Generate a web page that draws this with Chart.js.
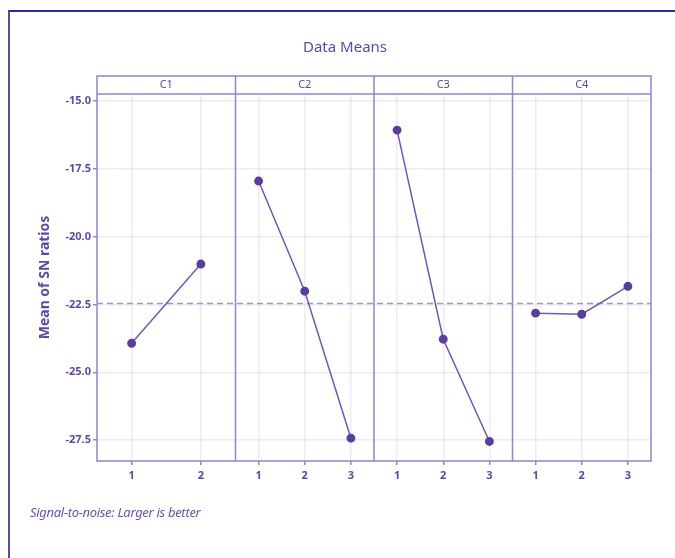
<!DOCTYPE html>
<html>
<head>
<meta charset="utf-8">
<script src="https://cdn.jsdelivr.net/npm/chart.js@4"></script>
<style>
    body { margin: 0; background: #fff; }
    #wrap { position: relative; width: 675px; height: 558px; }
    #frame { position: absolute; left: 8px; top: 10px; right: 0; bottom: -5px;
        border-left: 2px solid #5b48a8; border-top: 2px solid #2f2a98; }
    #note { position: absolute; left: 30px; top: 503px; font: italic 13px "Noto Sans", sans-serif;
        color: #6a52ae; letter-spacing: -0.3px; }
</style>
</head>
<body>
<div id="wrap">
    <div id="frame"></div>
    <canvas id="myChart" width="675" height="558"></canvas>
    <div id="note">Signal-to-noise: Larger is better</div>
</div>
<script>
// factors and their level means (SN ratios)
const factors = ['C1', 'C2', 'C3', 'C4'];
const levels_c1 = ['1', '2'];
const levels_other = ['1', '2', '3'];
const sn_c1 = [-23.93, -21.01];
const sn_c2 = [-17.95, -22.01, -27.43];
const sn_c3 = [-16.07, -23.78, -27.55];
const sn_c4 = [-22.82, -22.86, -21.83];
const y_ticks = [-15.0, -17.5, -20.0, -22.5, -25.0, -27.5];

const purple = '#5a3d9e';
const text_purple = '#5f47a8';
const frame_purple = '#9683c8';
const grid_purple = 'rgba(150, 130, 205, 0.16)';

const panel_levels = [levels_c1, levels_other, levels_other, levels_other];
const panel_values = [sn_c1, sn_c2, sn_c3, sn_c4];

// each factor panel takes one unit on the shared x axis
function level_pos(panel, idx) {
    const n = panel_levels[panel].length;
    return panel + (idx + 0.5) / n;
}

const grand_mean = sn_c2.reduce((a, b) => a + b, 0) / sn_c2.length;

const tick_positions = [];
const tick_labels = {};
panel_levels.forEach((lv, p) => {
    lv.forEach((name, i) => {
        const pos = level_pos(p, i);
        tick_positions.push(pos);
        tick_labels[pos.toFixed(4)] = name;
    });
});

const datasets = panel_values.map((vals, p) => ({
    label: factors[p],
    data: vals.map((v, i) => ({ x: level_pos(p, i), y: v })),
    borderColor: '#7058b4',
    borderWidth: 1.5,
    backgroundColor: purple,
    pointBackgroundColor: purple,
    pointBorderColor: purple,
    pointRadius: 3.7,
    tension: 0
}));
datasets.push({
    label: 'mean',
    data: [{ x: 0, y: grand_mean }, { x: 4, y: grand_mean }],
    borderColor: '#a193d2',
    borderWidth: 1.5,
    borderDash: [6, 4],
    pointRadius: 0
});

// strip headers, panel borders and the title
const panelPlugin = {
    id: 'panels',
    afterDraw(chart) {
        const ctx = chart.ctx;
        const area = chart.chartArea;
        const xs = chart.scales.x;
        ctx.save();
        ctx.strokeStyle = frame_purple;
        ctx.lineWidth = 1.5;
        const strip_top = area.top - 18;
        ctx.strokeRect(area.left, strip_top, area.right - area.left, area.bottom - strip_top);
        ctx.beginPath();
        ctx.moveTo(area.left, area.top);
        ctx.lineTo(area.right, area.top);
        for (let p = 1; p < factors.length; p++) {
            const px = xs.getPixelForValue(p);
            ctx.moveTo(px, strip_top);
            ctx.lineTo(px, area.bottom);
        }
        ctx.stroke();
        ctx.fillStyle = text_purple;
        ctx.font = '11px "Noto Sans", sans-serif';
        ctx.textAlign = 'center';
        ctx.textBaseline = 'middle';
        factors.forEach((f, p) => {
            const cx = (xs.getPixelForValue(p) + xs.getPixelForValue(p + 1)) / 2;
            ctx.fillText(f, cx, strip_top + 9);
        });
        ctx.font = '15px "Noto Sans", sans-serif';
        ctx.fillText('Data Means', 345, 48);
        ctx.restore();
    }
};

const ctx = document.getElementById('myChart').getContext('2d');
new Chart(ctx, {
    type: 'line',
    data: { datasets: datasets },
    options: {
        responsive: false,
        animation: false,
        layout: { padding: { left: 37, top: 94, right: 24, bottom: 67 } },
        plugins: { legend: { display: false }, tooltip: { enabled: false }, title: { display: false } },
        scales: {
            x: {
                type: 'linear',
                min: 0,
                max: 4,
                afterBuildTicks(scale) {
                    scale.ticks = tick_positions.map(v => ({ value: v }));
                },
                afterFit(scale) { scale.height = 30; },
                ticks: {
                    color: text_purple,
                    font: { size: 11, weight: 'bold', family: '"Noto Sans", sans-serif' },
                    padding: 4,
                    callback: (value) => tick_labels[Number(value).toFixed(4)] || ''
                },
                grid: { color: grid_purple, lineWidth: 1.5, tickLength: 4, tickColor: frame_purple },
                border: { display: false }
            },
            y: {
                min: -28.27,
                max: -14.74,
                afterBuildTicks(scale) {
                    scale.ticks = y_ticks.map(v => ({ value: v }));
                },
                afterFit(scale) { scale.width = 60; },
                ticks: {
                    color: text_purple,
                    font: { size: 11, weight: 'bold', family: '"Noto Sans", sans-serif' },
                    padding: 2,
                    callback: (value) => Number(value).toFixed(1)
                },
                grid: { color: grid_purple, lineWidth: 1.5, tickLength: 4, tickColor: frame_purple },
                border: { display: false },
                title: {
                    display: true,
                    text: 'Mean of SN ratios',
                    color: text_purple,
                    font: { size: 14, weight: 'bold', family: '"Noto Sans", sans-serif' },
                    padding: 0
                }
            }
        }
    },
    plugins: [panelPlugin]
});
</script>
</body>
</html>
